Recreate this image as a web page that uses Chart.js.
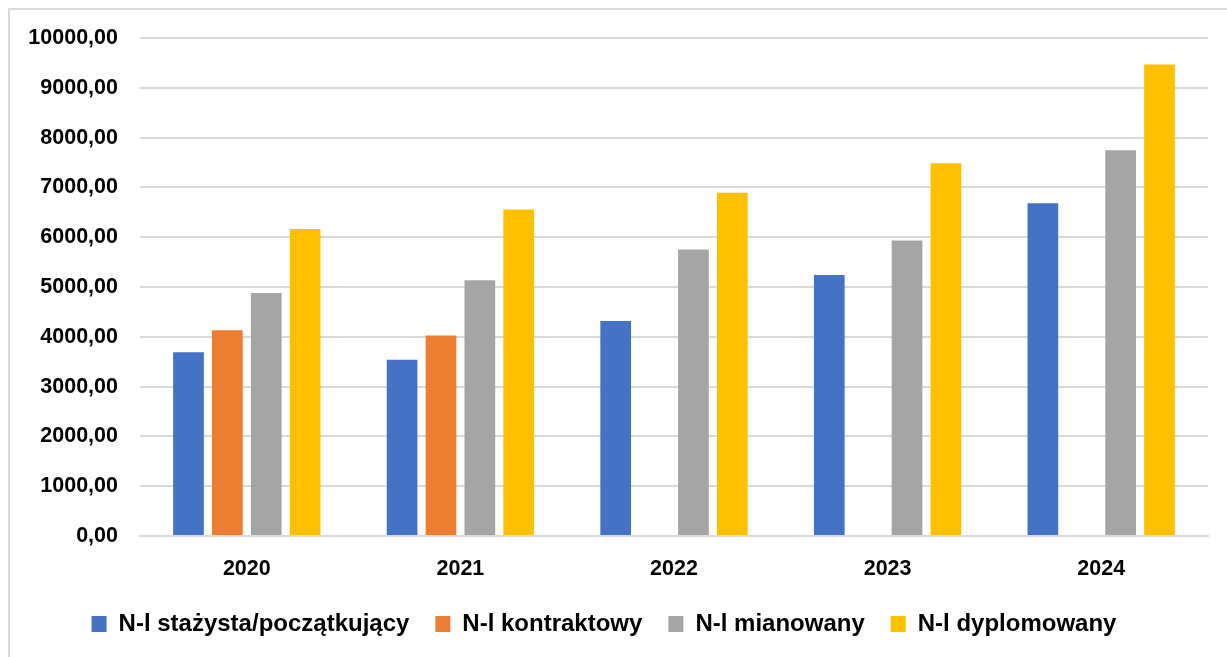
<!DOCTYPE html>
<html>
<head>
<meta charset="utf-8">
<script src="https://cdn.jsdelivr.net/npm/chart.js@4/dist/chart.umd.min.js"></script>
<style>
  html, body { margin: 0; padding: 0; background: #fff; overflow: hidden; }
  #frame { position: absolute; left: 8px; top: 8px; width: 1300px; height: 700px; border: 2px solid #d9d9d9; box-sizing: border-box; }
  #wrap { position: absolute; left: 0; top: 0; width: 1227px; height: 657px; }
</style>
</head>
<body>
<div id="frame"></div>
<div id="wrap"><canvas id="c" width="1227" height="657"></canvas></div>
<script>
const categories = ['2020', '2021', '2022', '2023', '2024'];
const seriesNames = ['N-l stażysta/początkujący', 'N-l kontraktowy', 'N-l mianowany', 'N-l dyplomowany'];
const stazysta = [3690, 3540, 4315, 5241, 6684];
const kontraktowy = [4133, 4027, null, null, null];
const mianowany = [4878, 5134, 5752, 5933, 7745];
const dyplomowany = [6167, 6557, 6892, 7483, 9469];
const colors = ['#4472C4', '#ED7D31', '#A5A5A5', '#FFC000'];
const yMin = 0, yMax = 10000, yStep = 1000;

const values = [stazysta, kontraktowy, mianowany, dyplomowany];
const FONT = "'Liberation Sans', Arial, sans-serif";

new Chart(document.getElementById('c'), {
  type: 'bar',
  data: {
    labels: categories,
    datasets: values.map((v, i) => ({
      label: seriesNames[i],
      data: v,
      backgroundColor: colors[i],
      borderWidth: 0,
      categoryPercentage: 0.728,
      barPercentage: 0.79
    }))
  },
  options: {
    responsive: false,
    animation: false,
    layout: { padding: { left: 0, right: 19, top: 38, bottom: 11 } },
    plugins: {
      tooltip: { enabled: false },
      legend: {
        position: 'bottom',
        labels: {
          boxWidth: 15,
          boxHeight: 16,
          padding: 26,
          color: '#000',
          font: { family: FONT, size: 24, weight: 'bold' }
        }
      }
    },
    scales: {
      x: {
        grid: { display: false, drawTicks: false },
        border: { color: '#d9d9d9', width: 2 },
        ticks: { color: '#000', padding: 20, font: { family: FONT, size: 21.5, weight: 'bold' } },
        afterFit: (s) => { s.height = 50; }
      },
      y: {
        min: yMin, max: yMax,
        grid: { color: '#d9d9d9', lineWidth: 2, drawTicks: false },
        border: { display: false },
        ticks: {
          stepSize: yStep,
          color: '#000',
          padding: 22,
          font: { family: FONT, size: 21.5, weight: 'bold' },
          callback: (v) => Number(v).toFixed(2).replace('.', ',')
        },
        afterFit: (s) => { s.width = 140; }
      }
    }
  }
});
</script>
</body>
</html>
